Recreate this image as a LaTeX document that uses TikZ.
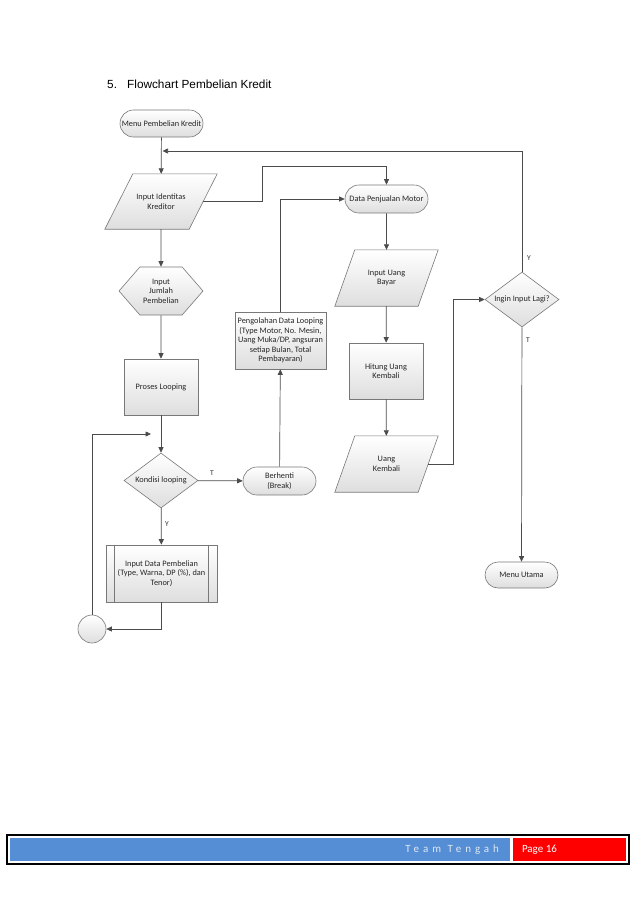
\documentclass[tikz,border=0pt]{standalone}
\usepackage{fontspec}
\usepackage{xcolor}
\usepackage{tikz}
\usetikzlibrary{shapes.misc,shapes.geometric,shapes.symbols,arrows.meta,backgrounds}
\newfontfamily\flowfont{Carlito}
\newfontfamily\titlefont{Liberation Sans}
\newfontfamily\teamfont[LetterSpace=36]{Carlito}
\definecolor{linegray}{RGB}{75,75,75}
\definecolor{bordergray}{RGB}{120,120,120}
\definecolor{barblue}{RGB}{85,142,213}
\definecolor{teamtext}{RGB}{222,232,244}

\tikzset{
  shade/.style={draw=bordergray, line width=0.6pt, top color=white, bottom color=black!13},
  base/.style={shade, align=center, inner sep=1pt, text=black!85, font=\flowfont\fontsize{8.3}{9.6}\selectfont},
  terminal/.style={base, rounded rectangle},
  process/.style={base, rectangle},
  inputtext/.style={rectangle, align=center, inner sep=1pt, text=black!85, font=\flowfont\fontsize{8.3}{9.6}\selectfont},
  hexbox/.style={base, signal, signal to=west and east, signal pointer angle=98},
  decision/.style={base, diamond, aspect=1.35, inner sep=0pt},
  sambungan/.style={base, circle, minimum size=28pt},
  yt/.style={font=\flowfont\fontsize{7.5}{8}\selectfont, text=black!80},
  line/.style={draw=linegray, line width=0.7pt},
  arr/.style={line, -{Triangle[length=5.5pt,width=5pt]}},
}

% jajaran genjang di belakang node: nama node, setengah kemiringan
\newcommand{\jajargenjang}[2]{%
  \draw[shade] ([xshift=-#2]#1.south west) -- ([xshift=#2]#1.north west)
    -- ([xshift=#2]#1.north east) -- ([xshift=-#2]#1.south east) -- cycle;}

\begin{document}
\begin{tikzpicture}[x=1pt, y=-1pt]
  \useasboundingbox (0,0) rectangle (638,903);

  % judul
  \node[anchor=base west, inner sep=0pt, font=\titlefont\fontsize{11.8}{14}\selectfont]
    (judul) at (107,88.5) {\makebox[20pt][l]{5.}Flowchart Pembelian Kredit};

  % kolom kiri
  \node[terminal, minimum width=85pt, minimum height=27pt] (menu) at (161.5,123.5) {Menu Pembelian Kredit};
  \node[inputtext, minimum width=84pt, minimum height=55pt] (identitas) at (161,201.5) {Input Identitas\\Kreditor};
  \node[hexbox, minimum width=84pt, minimum height=48pt] (jumlah) at (161,291) {Input\\Jumlah\\Pembelian};
  \node[process, minimum width=74pt, minimum height=56pt] (proses) at (161,387) {Proses Looping};
  \node[decision, minimum width=74pt, minimum height=55pt] (kondisi) at (161,480.5) {Kondisi looping};
  \node[process, minimum width=111pt, minimum height=57pt] (beli) at (161.5,573.5)
    {Input Data Pembelian\\(Type, Warna, DP (\%), dan\\Tenor)};
  \draw[draw=bordergray, line width=0.6pt] ([xshift=9pt]beli.north west) -- ([xshift=9pt]beli.south west);
  \draw[draw=bordergray, line width=0.6pt] ([xshift=-9pt]beli.north east) -- ([xshift=-9pt]beli.south east);
  \node[sambungan] (sambung) at (92,629) {};

  % kolom tengah
  \node[terminal, minimum width=75pt, minimum height=28pt] (berhenti) at (279.5,481) {Berhenti\\(Break)};
  \node[process, minimum width=91pt, minimum height=57pt] (olah) at (280.5,340.5)
    {Pengolahan Data Looping\\(Type Motor, No. Mesin,\\Uang Muka/DP, angsuran\\setiap Bulan, Total\\Pembayaran)};
  \node[terminal, minimum width=85pt, minimum height=28pt] (penjualan) at (386.5,199) {Data Penjualan Motor};
  \node[inputtext, minimum width=83pt, minimum height=56pt] (bayar) at (386.5,278) {Input Uang\\Bayar};
  \node[process, minimum width=74pt, minimum height=56pt] (hitung) at (386,371) {Hitung Uang\\Kembali};
  \node[inputtext, minimum width=83pt, minimum height=56pt] (kembali) at (386.5,464) {Uang\\Kembali};

  % kolom kanan
  \node[decision, minimum width=74pt, minimum height=55pt] (lagi) at (522,299.5) {Ingin Input Lagi?};
  \node[terminal, minimum width=75pt, minimum height=26pt] (utama) at (521.5,575) {Menu Utama};

  \begin{scope}[on background layer]
    \jajargenjang{identitas}{14pt}
    \jajargenjang{bayar}{10pt}
    \jajargenjang{kembali}{10pt}
  \end{scope}

  \coordinate (atas) at (162.5,151);
  \coordinate (kiri) at (262,166);
  \coordinate (balik) at (151,434);
  \coordinate (naik) at (453,299.5);

  % panah
  \draw[arr] (menu) -- (identitas);
  \draw[arr] (identitas) -- (jumlah);
  \draw[arr] (jumlah) -- (proses);
  \draw[arr] (proses) -- (kondisi);
  \draw[arr] (kondisi) -- (beli);
  \draw[arr] (kondisi) -- (berhenti);
  \draw[arr] (beli.south) |- (sambung.east);
  \draw[arr] (sambung.north) |- (balik);
  \draw[arr] (berhenti) -- (olah);
  \draw[arr] (olah.north) |- (penjualan.west);
  \draw[arr] (identitas.east) -| (kiri) -| (penjualan.north);
  \draw[arr] (penjualan) -- (bayar);
  \draw[arr] (bayar) -- (hitung);
  \draw[arr] (hitung) -- (kembali);
  \draw[arr] (kembali.east) -| (naik) -- (lagi.west);
  \draw[arr] (lagi.north) |- (atas);
  \draw[arr] (lagi) -- (utama);

  \node[yt] (tkondisi) at (212,473) {T};
  \node[yt] (ykondisi) at (167,524) {Y};
  \node[yt] (ylagi) at (529,258) {Y};
  \node[yt] (tlagi) at (528,340) {T};

  % kaki halaman
  \node[draw=black, line width=1.1pt, minimum width=622pt, minimum height=29pt, inner sep=0pt]
    (kaki) at (318,849.5) {};
  \node[fill=barblue, minimum width=500pt, minimum height=23pt, inner sep=0pt] (biru) at (260,849.5) {};
  \node[fill=red, minimum width=113pt, minimum height=23pt, inner sep=0pt] (merah) at (569.5,849.5) {};
  \node[anchor=east, inner sep=0pt, text=teamtext, font=\teamfont\fontsize{11}{13}\selectfont]
    (tim) at ([xshift=-11pt]biru.east) {Team Tengah};
  \node[anchor=west, inner sep=0pt, text=white, font=\flowfont\fontsize{11}{13}\selectfont]
    (hal) at ([xshift=9pt]merah.west) {Page 16};
\end{tikzpicture}
\end{document}
